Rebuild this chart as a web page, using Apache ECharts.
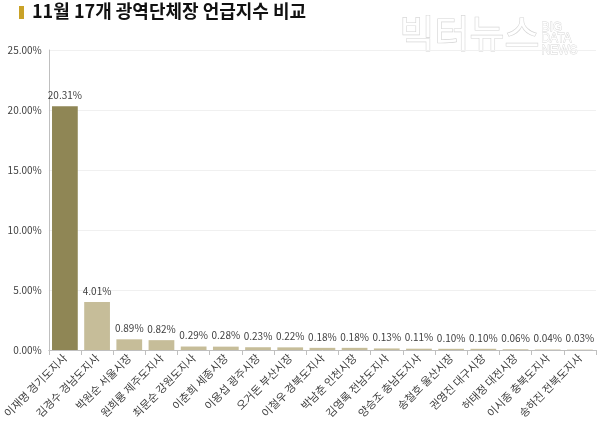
<!DOCTYPE html>
<html><head><meta charset="utf-8">
<script src="https://cdn.jsdelivr.net/npm/echarts@6/dist/echarts.min.js"></script>
<style>html,body{margin:0;padding:0;background:#fff}#c{width:600px;height:429px}</style>
</head><body><div id="c"></div>
<script>
const categories = ['이재명 경기도지사','김경수 경남도지사','박원순 서울시장','원희룡 제주도지사','최문순 강원도지사','이춘희 세종시장','이용섭 광주시장','오거돈 부산시장','이철우 경북도지사','박남춘 인천시장','김영록 전남도지사','양승조 충남도지사','송철호 울산시장','권영진 대구시장','허태정 대전시장','이시종 충북도지사','송하진 전북도지사'];
const values = [20.31,4.01,0.89,0.82,0.29,0.28,0.23,0.22,0.18,0.18,0.13,0.11,0.10,0.10,0.06,0.04,0.03];
const yTicks = [0,5,10,15,20,25];
const chart = echarts.init(document.getElementById('c'));
const font = "'Noto Sans CJK KR', 'Noto Sans', sans-serif";
chart.setOption({
  animation:false,
  textStyle:{fontFamily:font},
  graphic:[
    {type:'rect',left:19,top:6,shape:{width:5,height:13},style:{fill:'#c9a227'}},
    {type:'text',left:32,top:2,style:{text:'11월 17개 광역단체장 언급지수 비교',font:"bold 18px 'Noto Sans CJK KR'",fill:'#111'}},
    {type:'text',left:399,top:13,style:{text:'빅터뉴스',font:"38px 'Noto Sans CJK KR'",fill:'#fff',stroke:'#d4d4d4',lineWidth:1.2}},
    {type:'text',left:541,top:21,style:{text:'BIG\nDATA\nNEWS',font:"12px 'Liberation Sans'",lineHeight:11.5,fill:'#fff',stroke:'#d4d4d4',lineWidth:0.8}}
  ],
  grid:{left:45,right:4,top:50,bottom:79},
  xAxis:{type:'category',data:categories,
    axisLine:{lineStyle:{color:'#bfbfbf'}},
    axisTick:{show:true,lineStyle:{color:'#bfbfbf'}},
    axisLabel:{rotate:45,interval:0,fontSize:11,color:'#404040',margin:6}},
  yAxis:{type:'value',min:0,max:25,interval:5,
    axisLine:{show:true,lineStyle:{color:'#bfbfbf'}},
    axisTick:{show:false},
    splitLine:{lineStyle:{color:'#f0f0f0'}},
    axisLabel:{formatter:v=>v.toFixed(2)+'%',fontSize:10,color:'#404040',margin:7}},
  series:[{type:'bar',barCategoryGap:'20%',
    data:values.map((v,i)=>({value:v,itemStyle:{color:i===0?'#8f8655':'#c6bd99'}})),
    label:{show:true,position:'top',distance:6,fontSize:10,color:'#404040',formatter:p=>p.value.toFixed(2)+'%'}}]
});
</script></body></html>
